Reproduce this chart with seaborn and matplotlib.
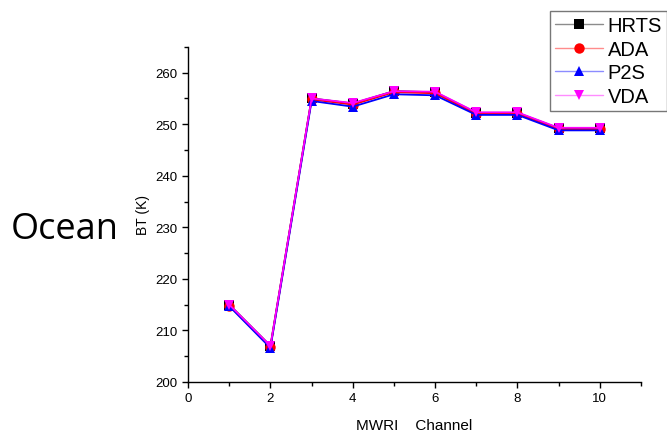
import matplotlib
matplotlib.use("Agg")
import matplotlib.pyplot as plt
import seaborn as sns
import pandas as pd
from matplotlib.ticker import MultipleLocator
from matplotlib.colors import to_rgb

channels = [1, 2, 3, 4, 5, 6, 7, 8, 9, 10]
hrts = [215.0, 207.0, 255.0, 254.0, 256.4, 256.2, 252.2, 252.2, 249.2, 249.2]
ada  = [214.8, 206.8, 254.8, 253.8, 256.2, 256.0, 252.0, 252.0, 249.0, 249.0]
p2s  = [214.7, 206.6, 254.5, 253.4, 255.8, 255.6, 251.8, 251.8, 248.8, 248.8]
vda  = [215.0, 207.0, 255.0, 254.1, 256.4, 256.3, 252.3, 252.3, 249.3, 249.3]
names = ["HRTS", "ADA", "P2S", "VDA"]

sns.set_style("white")
plt.rcParams['font.family'] = ['Liberation Sans', 'DejaVu Sans']
plt.rcParams['text.color'] = 'black'
plt.rcParams['axes.labelcolor'] = 'black'

df = pd.DataFrame({
    "channel": channels * 4,
    "bt": hrts + ada + p2s + vda,
    "series": sum([[n] * len(channels) for n in names], []),
})

colors = {"HRTS": "black", "ADA": "red", "P2S": "blue", "VDA": "magenta"}
markers = {"HRTS": "s", "ADA": "o", "P2S": "^", "VDA": "v"}

fig = plt.figure(figsize=(6.67, 4.39), dpi=100)
ax = fig.add_axes([0.282, 0.1276, 0.679, 0.7634])

for n in names:
    sub = df[df.series == n]
    sns.lineplot(data=sub, x="channel", y="bt", ax=ax, color=colors[n],
                 marker=markers[n], markersize=7.5, markeredgewidth=0,
                 linewidth=1.3, label=n)

ax.set_xlim(0, 11)
ax.set_ylim(200, 265)
ax.xaxis.set_major_locator(MultipleLocator(2))
ax.xaxis.set_minor_locator(MultipleLocator(1))
ax.yaxis.set_major_locator(MultipleLocator(10))
ax.yaxis.set_minor_locator(MultipleLocator(5))
ax.tick_params(which="both", direction="out", length=4, width=1, labelsize=9.5,
               bottom=True, left=True, colors="black")
ax.tick_params(which="minor", length=3)
for s in ["top", "right"]:
    ax.spines[s].set_visible(False)
for s in ["left", "bottom"]:
    ax.spines[s].set_color("black")
    ax.spines[s].set_linewidth(1.0)

ax.set_xlabel("MWRI    Channel", fontsize=11, labelpad=10)
ax.set_ylabel("BT (K)", fontsize=10, labelpad=4)

fig.text(0.016, 0.475, "Ocean", fontsize=26, va="center", ha="left",
         family=["Open Sans", "DejaVu Sans"])

leg = ax.legend(loc="upper right", bbox_to_anchor=(1.015, 0.995),
                bbox_transform=fig.transFigure, fontsize=14.5,
                frameon=True, fancybox=False, handlelength=2.4,
                handletextpad=0.2, borderpad=0.25, labelspacing=0.22)
leg.get_frame().set_edgecolor("#555555")
leg.get_frame().set_linewidth(1.0)
for line, n in zip(leg.get_lines(), names):
    r, g, b = to_rgb(colors[n])
    light = (r + (1 - r) * 0.55, g + (1 - g) * 0.55, b + (1 - b) * 0.55)
    line.set_color(light)
    line.set_linewidth(1.0)
    line.set_markerfacecolor(colors[n])
    line.set_markeredgecolor(colors[n])
    line.set_markersize(7.5)

fig.savefig("out.png", dpi=100)
